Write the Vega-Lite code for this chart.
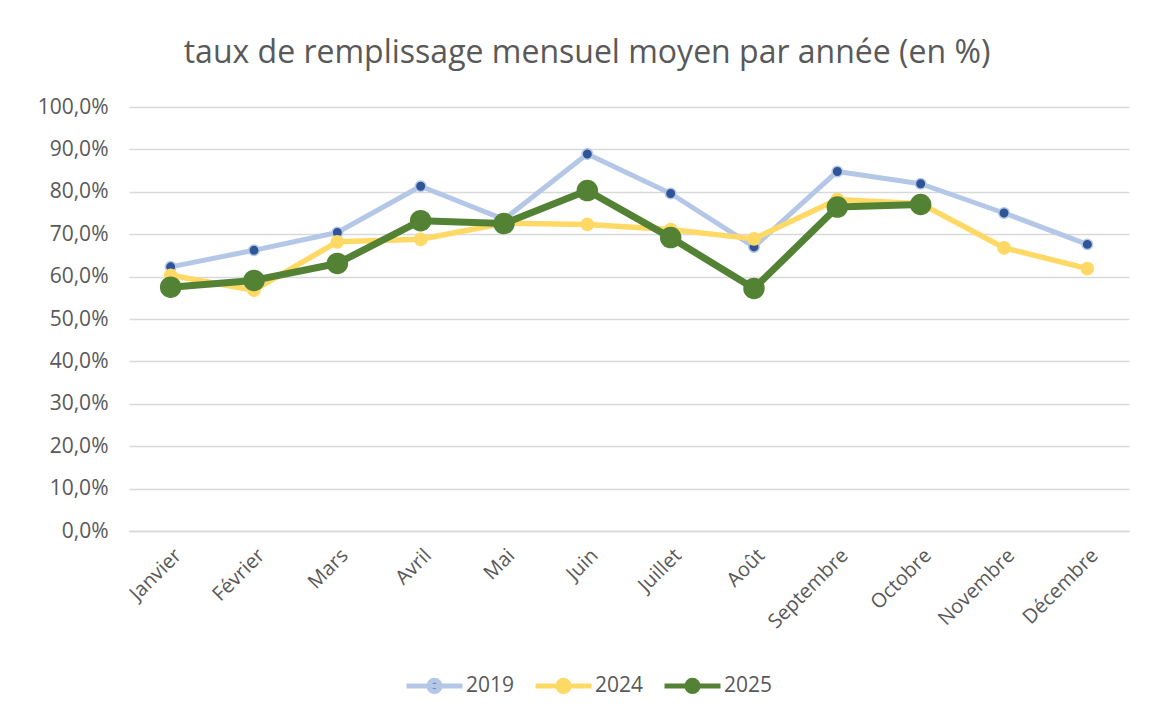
{
  "$schema": "https://vega.github.io/schema/vega-lite/v6.json",
  "autosize": "none",
  "width": 1000,
  "height": 424,
  "padding": {"left": 129, "top": 107, "right": 45, "bottom": 190},
  "background": "white",
  "title": {
    "text": "taux de remplissage mensuel moyen par année (en %)",
    "font": "Open Sans",
    "fontSize": 32,
    "fontWeight": "normal",
    "color": "#595959",
    "anchor": "middle",
    "dx": -42,
    "baseline": "alphabetic",
    "offset": 1
  },
  "data": {
    "values": [
      {"mois": "Janvier", "annee": "2019", "taux": 62.3},
      {"mois": "Février", "annee": "2019", "taux": 66.2},
      {"mois": "Mars", "annee": "2019", "taux": 70.4},
      {"mois": "Avril", "annee": "2019", "taux": 81.3},
      {"mois": "Mai", "annee": "2019", "taux": 73.5},
      {"mois": "Juin", "annee": "2019", "taux": 88.9},
      {"mois": "Juillet", "annee": "2019", "taux": 79.6},
      {"mois": "Août", "annee": "2019", "taux": 67.0},
      {"mois": "Septembre", "annee": "2019", "taux": 84.8},
      {"mois": "Octobre", "annee": "2019", "taux": 81.9},
      {"mois": "Novembre", "annee": "2019", "taux": 75.0},
      {"mois": "Décembre", "annee": "2019", "taux": 67.6},
      {"mois": "Janvier", "annee": "2024", "taux": 60.3},
      {"mois": "Février", "annee": "2024", "taux": 56.8},
      {"mois": "Mars", "annee": "2024", "taux": 68.2},
      {"mois": "Avril", "annee": "2024", "taux": 68.8},
      {"mois": "Mai", "annee": "2024", "taux": 72.6},
      {"mois": "Juin", "annee": "2024", "taux": 72.3},
      {"mois": "Juillet", "annee": "2024", "taux": 71.1},
      {"mois": "Août", "annee": "2024", "taux": 68.9},
      {"mois": "Septembre", "annee": "2024", "taux": 78.2},
      {"mois": "Octobre", "annee": "2024", "taux": 77.2},
      {"mois": "Novembre", "annee": "2024", "taux": 66.8},
      {"mois": "Décembre", "annee": "2024", "taux": 61.9},
      {"mois": "Janvier", "annee": "2025", "taux": 57.5},
      {"mois": "Février", "annee": "2025", "taux": 59.1},
      {"mois": "Mars", "annee": "2025", "taux": 63.1},
      {"mois": "Avril", "annee": "2025", "taux": 73.2},
      {"mois": "Mai", "annee": "2025", "taux": 72.5},
      {"mois": "Juin", "annee": "2025", "taux": 80.3},
      {"mois": "Juillet", "annee": "2025", "taux": 69.2},
      {"mois": "Août", "annee": "2025", "taux": 57.2},
      {"mois": "Septembre", "annee": "2025", "taux": 76.4},
      {"mois": "Octobre", "annee": "2025", "taux": 77.0}
    ]
  },
  "encoding": {
    "x": {
      "field": "mois",
      "type": "ordinal",
      "sort": ["Janvier", "Février", "Mars", "Avril", "Mai", "Juin", "Juillet", "Août", "Septembre", "Octobre", "Novembre", "Décembre"],
      "scale": {"type": "point", "padding": 0.5},
      "axis": {
        "title": null,
        "labelAngle": -45,
        "labelFont": "Open Sans",
        "labelFontSize": 20,
        "labelColor": "#595959",
        "labelPadding": 14,
        "ticks": false,
        "domainColor": "#D9D9D9",
        "domainWidth": 1.5,
        "grid": false
      }
    },
    "y": {
      "field": "taux",
      "type": "quantitative",
      "scale": {"domain": [0, 100], "nice": false},
      "axis": {
        "title": null,
        "values": [0, 10, 20, 30, 40, 50, 60, 70, 80, 90, 100],
        "labelExpr": "replace(format(datum.value, '.1f'), '.', ',') + '%'",
        "labelFont": "Open Sans",
        "labelFontSize": 21,
        "labelColor": "#595959",
        "labelPadding": 21,
        "ticks": false,
        "domain": false,
        "grid": true,
        "gridColor": "#D9D9D9",
        "gridWidth": 1.5
      }
    }
  },
  "layer": [
    {
      "transform": [{"filter": "datum.annee == '2019'"}],
      "mark": {"type": "line", "strokeWidth": 5, "strokeCap": "round", "strokeJoin": "round"},
      "encoding": {
        "stroke": {
          "field": "annee",
          "type": "nominal",
          "scale": {"domain": ["2019", "2024", "2025"], "range": ["#B4C7E7", "#FFD966", "#548235"]},
          "legend": {
            "title": null,
            "orient": "none",
            "legendX": 275,
            "legendY": 548,
            "direction": "horizontal",
            "symbolType": "M-1,0L1,0M-0.2,0A0.2,0.2,0,1,1,0.2,0A0.2,0.2,0,1,1,-0.2,0Z",
            "symbolSize": 3136,
            "symbolStrokeWidth": 5,
            "symbolOpacity": 1,
            "labelFont": "Open Sans",
            "labelFontSize": 21,
            "labelColor": "#595959",
            "labelOffset": 1,
            "columnPadding": 10,
            "encode": {
              "symbols": {
                "update": {
                  "fill": {"signal": "datum.value === '2019' ? '#2F5597' : scale('stroke', datum.value)"}
                }
              }
            }
          }
        }
      }
    },
    {
      "transform": [{"filter": "datum.annee == '2024'"}],
      "mark": {"type": "line", "strokeWidth": 5.5, "strokeCap": "round", "strokeJoin": "round"},
      "encoding": {"stroke": {"field": "annee", "type": "nominal"}}
    },
    {
      "transform": [{"filter": "datum.annee == '2025'"}],
      "mark": {"type": "line", "strokeWidth": 7, "strokeCap": "round", "strokeJoin": "round"},
      "encoding": {"stroke": {"field": "annee", "type": "nominal"}}
    },
    {
      "transform": [{"filter": "datum.annee == '2019'"}],
      "mark": {"type": "point", "filled": true, "opacity": 1, "fill": "#2F5597", "stroke": "#B4C7E7", "strokeWidth": 1.5, "size": 110}
    },
    {
      "transform": [{"filter": "datum.annee == '2024'"}],
      "mark": {"type": "point", "filled": true, "opacity": 1, "fill": "#FFD966", "stroke": "#FFD966", "strokeWidth": 1.5, "size": 150}
    },
    {
      "transform": [{"filter": "datum.annee == '2025'"}],
      "mark": {"type": "point", "filled": true, "opacity": 1, "fill": "#548235", "stroke": "#548235", "strokeWidth": 1.5, "size": 400}
    }
  ],
  "config": {
    "view": {"stroke": null}
  }
}
